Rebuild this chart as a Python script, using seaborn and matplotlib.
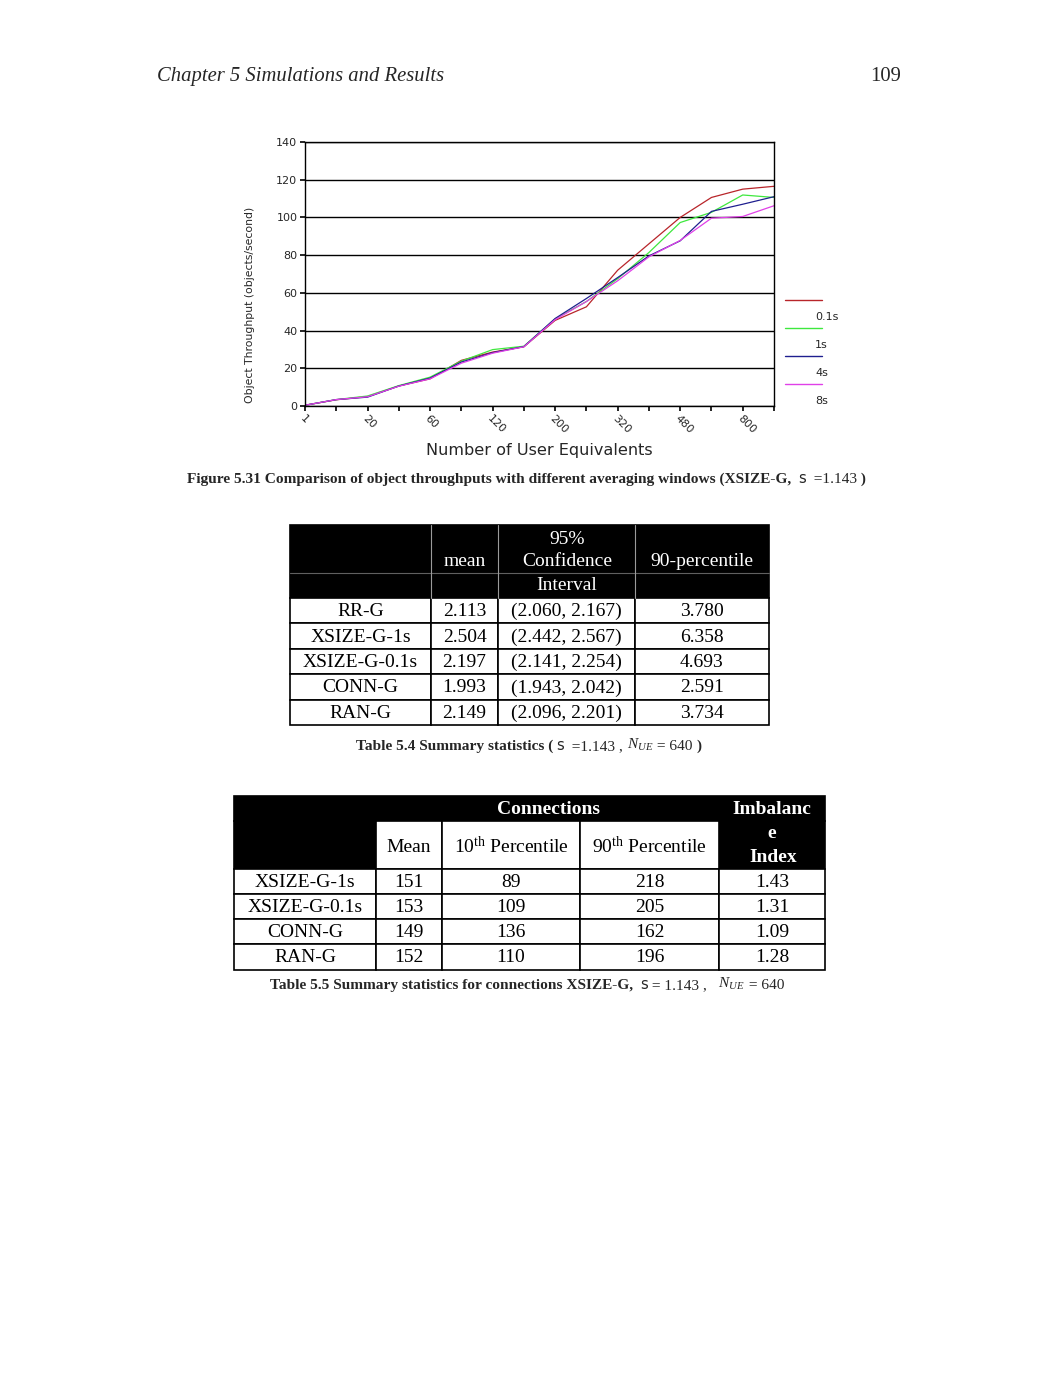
import matplotlib
matplotlib.use('Agg')
import matplotlib.pyplot as plt
import seaborn as sns
import pandas as pd
from matplotlib.patches import Rectangle
from matplotlib.lines import Line2D

# ---- chart data ----
users = [1, 10, 20, 40, 60, 80, 120, 160, 200, 240, 320, 400, 480, 640, 800, 960]
windows = ['0.1s', '1s', '4s', '8s']
tp_01 = [0.4, 3.3, 5.0, 10.6, 14.4, 24.2, 28.6, 31.4, 45.4, 52.6, 72.0, 86.0, 100.0, 110.6, 115.0, 116.5]
tp_1 = [0.4, 3.4, 5.3, 10.8, 15.3, 23.8, 29.9, 31.7, 46.2, 55.4, 67.5, 81.4, 97.3, 102.7, 111.9, 110.6]
tp_4 = [0.4, 3.4, 4.7, 10.6, 14.8, 23.3, 28.3, 31.5, 46.4, 57.0, 68.1, 79.6, 87.6, 103.2, 107.0, 111.0]
tp_8 = [0.4, 3.4, 4.9, 10.5, 14.4, 22.7, 28.0, 31.4, 45.8, 55.4, 66.4, 79.1, 87.8, 99.6, 100.5, 106.2]
colors = ['#b8252a', '#3ee83e', '#1f1f8f', '#e040e8']

# ---- table data ----
t4_names = ['RR-G', 'XSIZE-G-1s', 'XSIZE-G-0.1s', 'CONN-G', 'RAN-G']
t4_mean = ['2.113', '2.504', '2.197', '1.993', '2.149']
t4_ci = ['(2.060, 2.167)', '(2.442, 2.567)', '(2.141, 2.254)', '(1.943, 2.042)', '(2.096, 2.201)']
t4_p90 = ['3.780', '6.358', '4.693', '2.591', '3.734']

t5_names = ['XSIZE-G-1s', 'XSIZE-G-0.1s', 'CONN-G', 'RAN-G']
t5_mean = ['151', '153', '149', '152']
t5_p10 = ['89', '109', '136', '110']
t5_p90 = ['218', '205', '162', '196']
t5_imb = ['1.43', '1.31', '1.09', '1.28']

rows = []
for w, vals in zip(windows, [tp_01, tp_1, tp_4, tp_8]):
    for i, v in enumerate(vals):
        rows.append({'pos': i, 'users': users[i], 'window': w, 'tp': v})
df = pd.DataFrame(rows)

sns.set_theme(style='white')
plt.rcParams['font.family'] = ['DejaVu Sans']
plt.rcParams['mathtext.fontset'] = 'custom'
plt.rcParams['mathtext.rm'] = 'Liberation Serif'
plt.rcParams['mathtext.it'] = 'Liberation Serif:italic'
plt.rcParams['mathtext.bf'] = 'Liberation Serif:bold'

W, H = 1061, 1373
fig = plt.figure(figsize=(W / 100, H / 100), dpi=100)
fig.patch.set_facecolor('white')

# full-page overlay in pixel coordinates for text and tables
page = fig.add_axes([0, 0, 1, 1])
page.set_xlim(0, W)
page.set_ylim(H, 0)
page.axis('off')

SERIF = 'Liberation Serif'

# ---- page header ----
page.text(157, 81, 'Chapter 5 Simulations and Results', family=SERIF, style='italic',
          fontsize=14.9, va='baseline', ha='left')
page.text(901, 81, '109', family=SERIF, fontsize=14.9, va='baseline', ha='right')

# ---- chart ----
ax = fig.add_axes([305 / W, 1 - 406 / H, (774 - 305) / W, (406 - 142) / H])
sns.lineplot(data=df, x='pos', y='tp', hue='window', palette=colors, estimator=None,
             linewidth=0.9, legend=False, ax=ax)
ax.set_xlim(0, len(users) - 1)
ax.set_ylim(0, 140)
ax.set_yticks(range(0, 141, 20))
ax.set_yticklabels([str(v) for v in range(0, 141, 20)], fontsize=8)
ax.set_xticks(range(len(users)))
ax.set_xticklabels([str(u) if i % 2 == 0 else '' for i, u in enumerate(users)],
                   fontsize=8, rotation=-45, ha='left', va='top', rotation_mode='anchor')
ax.tick_params(axis='both', which='major', direction='out', length=3.5, width=1.2,
               color='black', pad=2, left=True, bottom=True)
ax.grid(axis='y', color='black', linewidth=1.0)
for s in ax.spines.values():
    s.set_color('black')
    s.set_linewidth(1.0)
ax.set_xlabel('')
ax.set_ylabel('')

fig.text(250 / W, 1 - 305 / H, 'Object Throughput (objects/second)', rotation=90,
         fontsize=7.8, ha='center', va='center')
fig.text(539 / W, 1 - 451 / H, 'Number of User Equivalents', fontsize=11.6,
         ha='center', va='center')

# legend drawn Excel-style: line above each label
for k, (w, c) in enumerate(zip(windows, colors)):
    y = 300 + 28 * k
    page.add_line(Line2D([785, 822], [y, y], color=c, linewidth=1.0))
    page.text(815, y + 17, w, fontsize=8, ha='left', va='center')


def chain(x, y, pieces):
    first = page.text(x, y, pieces[0][0], va='baseline', ha='left', **pieces[0][1])
    prev = first
    for s, kw in pieces[1:]:
        prev = page.annotate(s, xy=(1, 0), xycoords=prev, xytext=(kw.pop('gap', 0), 0),
                             textcoords='offset points', va='bottom', ha='left', **kw)
    return first


bold = dict(family=SERIF, weight='bold', fontsize=11.1)
reg = dict(family=SERIF, fontsize=11.1)
chain(187, 483, [
    ('Figure 5.31 Comparison of object throughputs with different averaging windows (XSIZE-G, ', bold),
    ('s', dict(family='DejaVu Sans', fontsize=10.5, gap=2)),
    ('  =1.143', dict(reg)),
    (' )', dict(bold)),
])


# ---- table helpers ----
def box(x0, y0, x1, y1, fc='white', ec='black', lw=1.2):
    page.add_patch(Rectangle((x0, y0), x1 - x0, y1 - y0, facecolor=fc, edgecolor=ec, linewidth=lw))


def ctext(x, y, s, color='black', weight='normal', size=14):
    page.text(x, y, s, family=SERIF, fontsize=size, color=color, weight=weight,
              ha='center', va='center')


# ---- Table 5.4 ----
c4 = [290, 431, 498, 635, 769]
box(290, 525, 769, 598, fc='black')
page.add_line(Line2D([290, 769], [573, 573], color='#606060', linewidth=0.8))
for x in c4[1:-1]:
    page.add_line(Line2D([x, x], [525, 598], color='#9a9a9a', linewidth=0.8))
ctext(465, 562, 'mean', color='white')
ctext(567, 539, '95%', color='white')
ctext(567, 562, 'Confidence', color='white')
ctext(567, 586, 'Interval', color='white')
ctext(702, 561, '90-percentile', color='white')
r4 = [598, 623, 649, 674, 700, 725]
for i in range(len(t4_names)):
    for j in range(4):
        box(c4[j], r4[i], c4[j + 1], r4[i + 1])
    ym = (r4[i] + r4[i + 1]) / 2 + 1
    for j, s in enumerate([t4_names[i], t4_mean[i], t4_ci[i], t4_p90[i]]):
        ctext((c4[j] + c4[j + 1]) / 2, ym, s)

chain(356, 750, [
    ('Table 5.4 Summary statistics (', bold),
    ('s', dict(family='DejaVu Sans', fontsize=10.5, gap=2)),
    ('  =1.143 , ', dict(reg)),
    (r'$N_{UE}$', dict(family=SERIF, fontsize=11.1)),
    (' = 640 ', dict(reg)),
    (')', dict(bold)),
])

# ---- Table 5.5 ----
c5 = [234, 376, 442, 580, 719, 825]
box(234, 796, 825, 821, fc='black')
box(234, 821, 376, 869, fc='black')
box(719, 821, 825, 869, fc='black')
for j in range(1, 4):
    box(c5[j], 821, c5[j + 1], 869)
ctext(548, 809, 'Connections', color='white', weight='bold')
ctext(772, 809, 'Imbalanc', color='white', weight='bold')
ctext(772, 834, 'e', color='white', weight='bold')
ctext(773, 857, 'Index', color='white', weight='bold')
ctext(409, 847, 'Mean')
ctext(511, 846, r'10$^{\mathrm{th}}$ Percentile')
ctext(649, 846, r'90$^{\mathrm{th}}$ Percentile')
r5 = [869, 894, 919, 944, 970]
for i in range(len(t5_names)):
    for j in range(5):
        box(c5[j], r5[i], c5[j + 1], r5[i + 1])
    ym = (r5[i] + r5[i + 1]) / 2 + 1
    for j, s in enumerate([t5_names[i], t5_mean[i], t5_p10[i], t5_p90[i], t5_imb[i]]):
        ctext((c5[j] + c5[j + 1]) / 2, ym, s)

chain(270, 989, [
    ('Table 5.5 Summary statistics for connections XSIZE-G, ', bold),
    ('s', dict(family='DejaVu Sans', fontsize=10.5, gap=2)),
    (' = 1.143 ,   ', dict(reg)),
    (r'$N_{UE}$', dict(family=SERIF, fontsize=11.1)),
    (' = 640', dict(reg)),
])

fig.savefig('out.png', dpi=100, facecolor='white')
